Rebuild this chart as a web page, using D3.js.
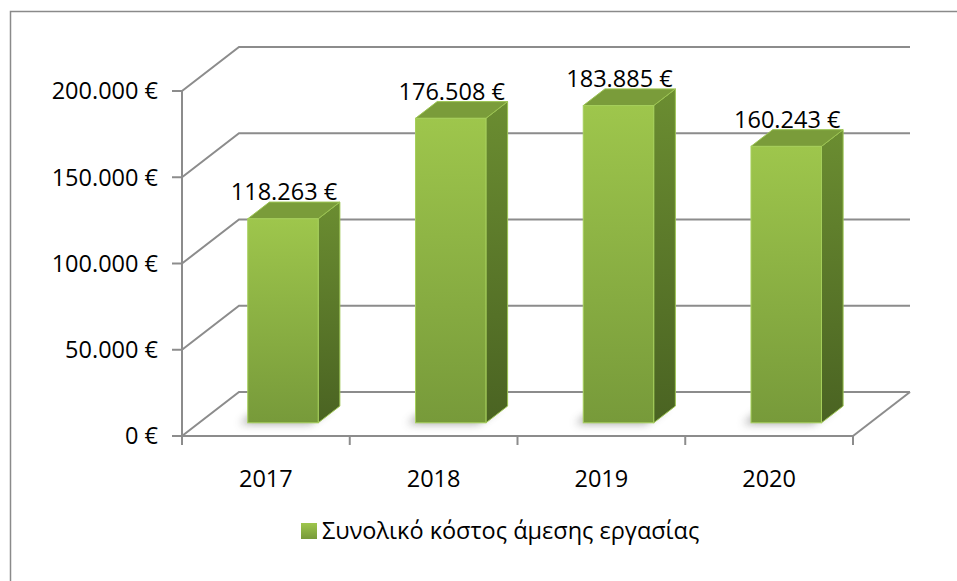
<!DOCTYPE html>
<html>
<head>
<meta charset="utf-8">
<script src="https://cdn.jsdelivr.net/npm/d3@7"></script>
<style>
  body { margin: 0; background: #fff; }
  text { font-family: "Open Sans", "Noto Sans", sans-serif; fill: #000; font-size: 23.5px; }
</style>
</head>
<body>
<script>
// data
var years = ["2017", "2018", "2019", "2020"];
var costs = [118263, 176508, 183885, 160243];
var ticks = [0, 50000, 100000, 150000, 200000];
var seriesName = "Συνολικό κόστος άμεσης εργασίας";

var W = 957, H = 581;
var DX = 57, DY = 44;          // depth of the 3d box
var front = 0.3, depth = 0.38; // bar position inside the depth

var svg = d3.select("body").append("svg")
    .attr("width", W)
    .attr("height", H);

var defs = svg.append("defs");

var gFront = defs.append("linearGradient")
    .attr("id", "gFront").attr("x1", 0).attr("y1", 0).attr("x2", 0).attr("y2", 1);
gFront.append("stop").attr("offset", "0%").attr("stop-color", "#9ec64c");
gFront.append("stop").attr("offset", "100%").attr("stop-color", "#779a3a");

var gSide = defs.append("linearGradient")
    .attr("id", "gSide").attr("x1", 0).attr("y1", 0).attr("x2", 0).attr("y2", 1);
gSide.append("stop").attr("offset", "0%").attr("stop-color", "#6b8d31");
gSide.append("stop").attr("offset", "100%").attr("stop-color", "#4a6322");

defs.append("filter").attr("id", "blur")
    .attr("x", "-50%").attr("y", "-50%").attr("width", "200%").attr("height", "200%")
  .append("feGaussianBlur").attr("stdDeviation", 4);

// outer frame (cut off at right and bottom)
svg.append("rect")
    .attr("x", 10.5).attr("y", 11.5)
    .attr("width", W).attr("height", H)
    .attr("fill", "none")
    .attr("stroke", "#8a8a8a")
    .attr("stroke-width", 1.5);

var x = d3.scaleBand().domain(years).range([182, 853]);
var y = d3.scaleLinear().domain([0, 200000]).range([436, 91]);

var grid = svg.append("g")
    .attr("fill", "none")
    .attr("stroke", "#8c8c8c")
    .attr("stroke-width", 2);

// back wall gridlines + left wall diagonals
grid.selectAll(".back").data(ticks).enter().append("path")
    .attr("d", function(d) {
      var x0 = x.range()[0], x1 = x.range()[1], yy = y(d);
      return "M" + x0 + "," + yy + "L" + (x0 + DX) + "," + (yy - DY) + "L" + (x1 + DX) + "," + (yy - DY);
    });

// floor right edge
grid.append("path")
    .attr("d", "M" + x.range()[1] + "," + y(0) + "L" + (x.range()[1] + DX) + "," + (y(0) - DY));

// value axis line and ticks
grid.append("path")
    .attr("d", "M" + x.range()[0] + "," + y(200000) + "V" + y(0));
grid.selectAll(".ytick").data(ticks).enter().append("path")
    .attr("d", function(d) { return "M" + (x.range()[0] - 10) + "," + y(d) + "H" + x.range()[0]; });

// category axis line and ticks
grid.append("path")
    .attr("d", "M" + (x.range()[0] - 10) + "," + y(0) + "H" + x.range()[1]);
grid.selectAll(".xtick").data(years.concat(["end"])).enter().append("path")
    .attr("d", function(d, i) {
      var xx = i < years.length ? x(d) : x.range()[1];
      return "M" + xx + "," + y(0) + "V" + (y(0) + 9);
    });

var fmt = function(v) {
  return d3.format(",")(v).replace(/,/g, ".") + " €";
};

// value axis labels
svg.selectAll(".ylab").data(ticks).enter().append("text")
    .attr("x", 158)
    .attr("y", function(d) { return y(d); })
    .attr("dy", "0.36em")
    .attr("text-anchor", "end")
    .text(fmt);

// category labels
svg.selectAll(".xlab").data(years).enter().append("text")
    .attr("x", function(d) { return x(d) + x.bandwidth() / 2; })
    .attr("y", 487)
    .attr("text-anchor", "middle")
    .text(function(d) { return d; });

// bars
var bw = x.bandwidth() * 0.42;
var fx = DX * front, fy = DY * front;   // front face offset
var bx = DX * depth, by = DY * depth;   // bar depth

var bars = svg.selectAll(".bar").data(years).enter().append("g");

bars.append("path")
    .attr("fill", "#555")
    .attr("opacity", 0.55)
    .attr("filter", "url(#blur)")
    .attr("d", function(d) {
      var l = x(d) + x.bandwidth() / 2 + fx - bw / 2 - 8, b = y(0) - fy + 1;
      return "M" + l + "," + b + "H" + (l + bw) + "L" + (l + bw + bx) + "," + (b - by) +
        "H" + (l + bx) + "Z";
    });

bars.each(function(d, i) {
  var g = d3.select(this);
  var l = x(d) + x.bandwidth() / 2 + fx - bw / 2, r = l + bw;
  var b = y(0) - fy, t = y(costs[i]) - fy;

  g.append("path")
      .attr("fill", "url(#gSide)")
      .attr("stroke", "#9cc452").attr("stroke-width", 1)
      .attr("d", "M" + r + "," + t + "L" + (r + bx) + "," + (t - by) + "V" + (b - by) + "L" + r + "," + b + "Z");
  g.append("path")
      .attr("fill", "#7a9c3a")
      .attr("stroke", "#9cc452").attr("stroke-width", 1)
      .attr("d", "M" + l + "," + t + "L" + (l + bx) + "," + (t - by) + "H" + (r + bx) + "L" + r + "," + t + "Z");
  g.append("rect")
      .attr("x", l).attr("y", t)
      .attr("width", bw).attr("height", b - t)
      .attr("fill", "url(#gFront)")
      .attr("stroke", "#a6cf5c").attr("stroke-width", 1);

  g.append("text")
      .attr("x", (l + r) / 2 + 1)
      .attr("y", t - by - 2)
      .attr("text-anchor", "middle")
      .text(fmt(costs[i]));
});

// legend
var legend = svg.append("g");
legend.append("rect")
    .attr("x", 301).attr("y", 523)
    .attr("width", 16).attr("height", 16)
    .attr("fill", "url(#gFront)");
legend.append("text")
    .attr("x", 322).attr("y", 539)
    .text(seriesName);
</script>
</body>
</html>
